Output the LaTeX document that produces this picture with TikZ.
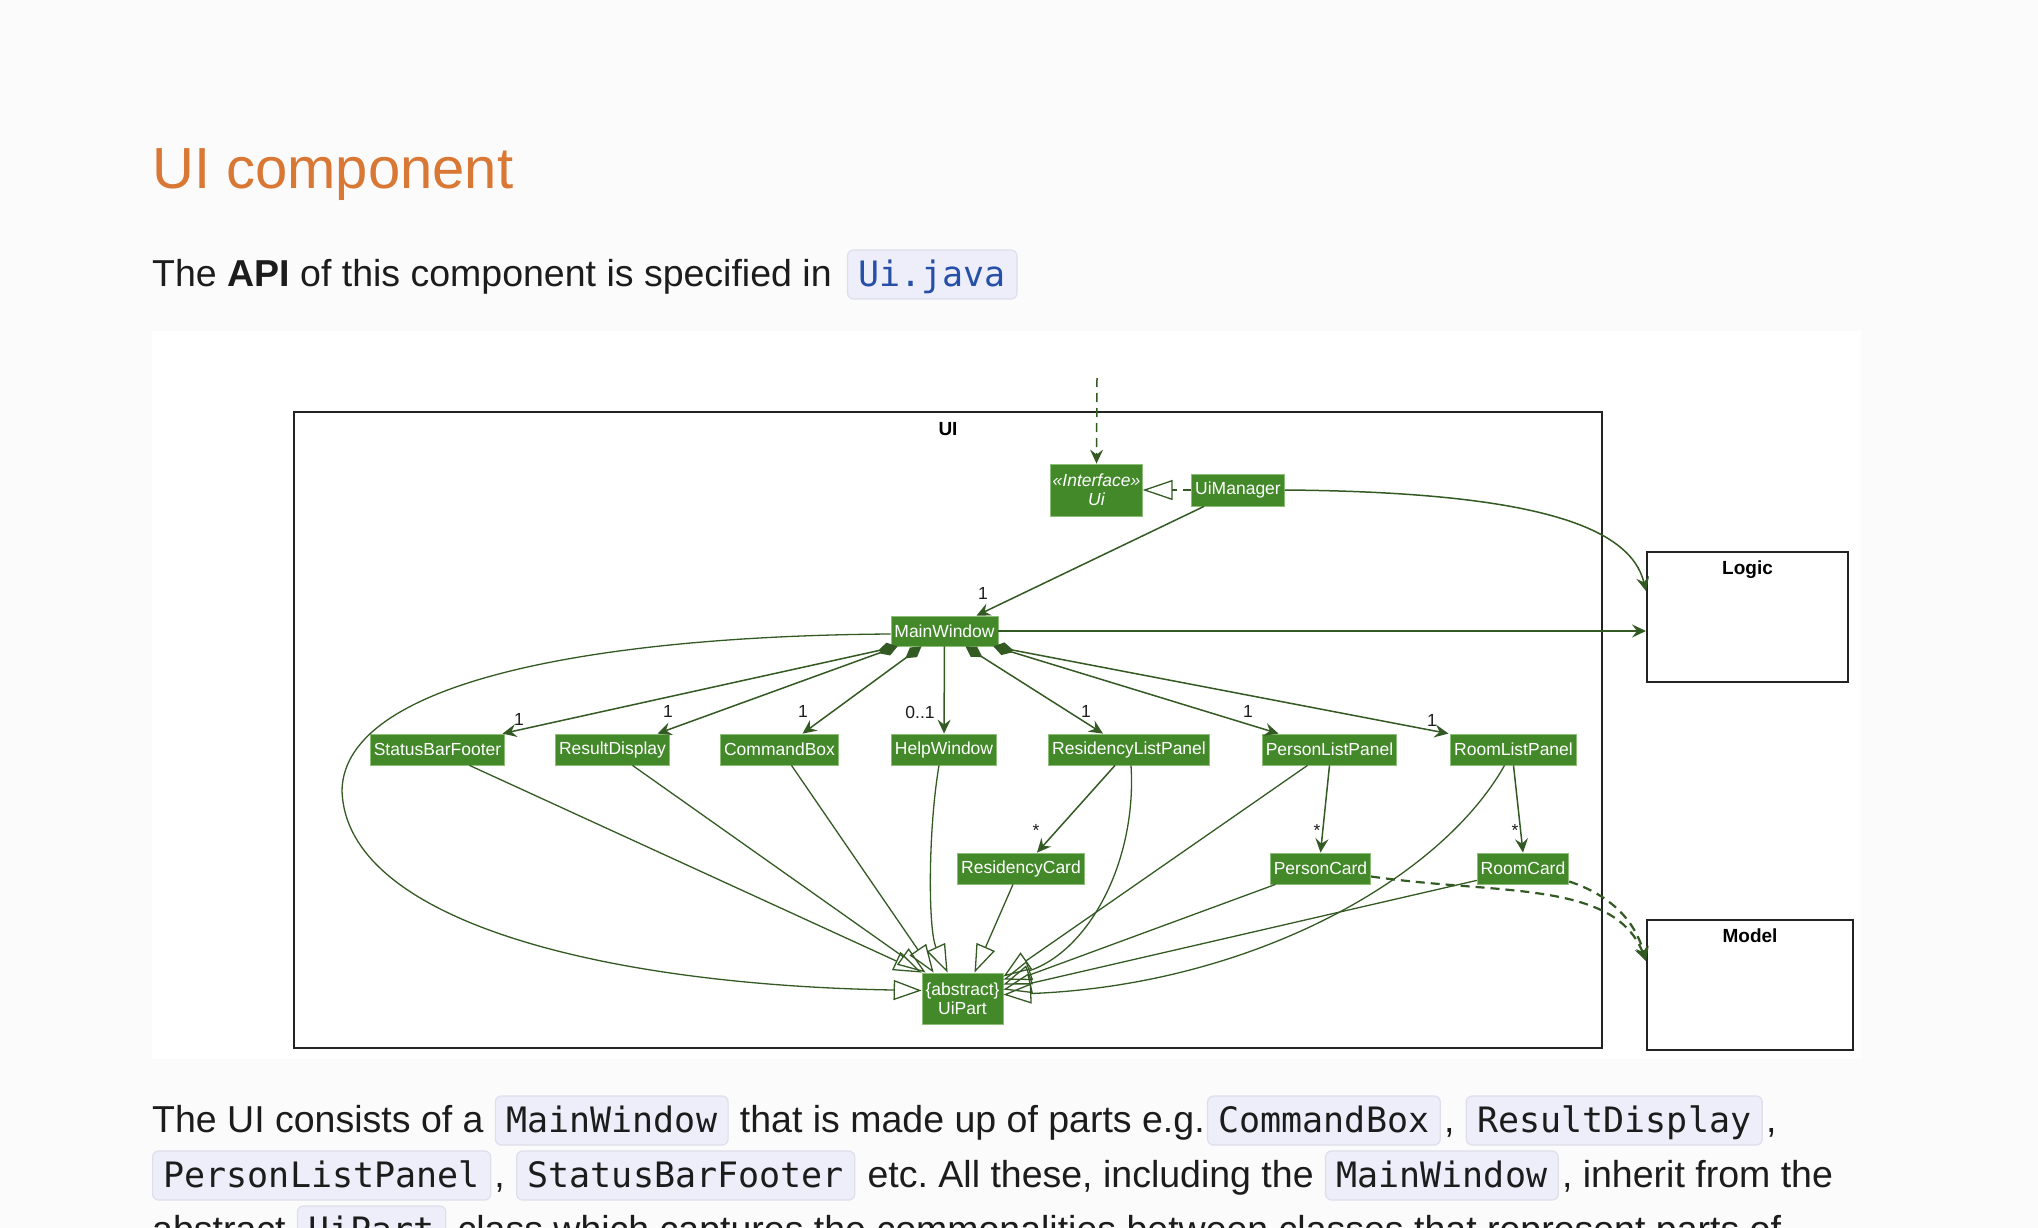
\documentclass[tikz,border=0pt]{standalone}
\usepackage{fontspec}
\setmainfont{Liberation Sans}
\setmonofont{DejaVu Sans Mono}
\usetikzlibrary{arrows.meta,positioning,calc}

\definecolor{uiGreen}{RGB}{67,137,42}
\definecolor{uiEdge}{RGB}{140,190,120}
\definecolor{uiLine}{RGB}{52,90,36}
\definecolor{pkgLine}{RGB}{35,35,35}
\definecolor{headOrange}{RGB}{217,119,52}
\definecolor{codeBlue}{RGB}{38,79,168}
\definecolor{codeBg}{RGB}{238,238,250}
\definecolor{codeEdge}{RGB}{222,222,236}
\definecolor{pageBg}{RGB}{251,251,251}
\definecolor{bodyText}{RGB}{28,28,28}

\newcommand{\umlsize}{\fontsize{17.5}{19}\selectfont}
\newcommand{\titlesize}{\fontsize{19}{22}\selectfont}
\newcommand{\bodysize}{\fontsize{37.5}{45}\selectfont}
\newcommand{\codesize}{\fontsize{35}{42}\selectfont}
\newcommand{\headsize}{\fontsize{58}{70}\selectfont}

\tikzset{
    cls/.style={draw=uiEdge, line width=0.8pt, fill=uiGreen, text=white, font=\umlsize,
        inner xsep=3.5pt, inner ysep=0pt, minimum height=31pt, align=center},
    pkg/.style={draw=pkgLine, line width=2pt, fill=white, inner sep=0pt},
    pkgtitle/.style={font=\titlesize\bfseries, text=black, inner sep=0pt},
    mult/.style={font=\umlsize, text=bodyText, inner sep=0pt},
    assoc/.style={draw=uiLine, line width=1.5pt, -{Stealth[length=14pt,width=13pt,inset=5pt]}},
    comp/.style={draw=uiLine, line width=1.5pt,
        {Diamond[length=20pt,width=12pt]}-{Stealth[length=14pt,width=13pt,inset=5pt]}},
    dep/.style={assoc, dash pattern=on 9pt off 6pt},
    real/.style={draw=uiLine, line width=1.3pt, dash pattern=on 8pt off 6pt,
        -{Triangle[open,length=30pt,width=20pt]}},
    gen/.style={draw=uiLine, line width=1.3pt, -{Triangle[open,length=28pt,width=20pt]}},
    heading/.style={font=\headsize, text=headOrange, inner sep=0pt, anchor=base west},
    body/.style={font=\bodysize, text=bodyText, inner sep=0pt, anchor=base west},
    code/.style={font=\ttfamily\codesize, text=bodyText, fill=codeBg, draw=codeEdge, line width=1.2pt,
        rounded corners=6pt, inner xsep=11pt, inner ysep=5pt, text height=31pt, text depth=8pt,
        anchor=base west}
}

\begin{document}
\frenchspacing
\begin{tikzpicture}[x=1pt,y=-1pt]
    \useasboundingbox (0,0) rectangle (2038,1228);
    \fill[pageBg] (0,0) rectangle (2038,1228);

    % Heading and intro line
    \node[heading] (title) at (152,188) {UI component};
    \node[body] (intro) at (152,286) {The \textbf{API} of this component is specified in};
    \node[code, text=codeBlue] (uiJava) at ([xshift=15pt]intro.base east) {Ui.java};

    % Diagram panel
    \fill[white] (152,331) rectangle (1861,1059);

    % Packages
    \node[pkg, minimum width=1308pt, minimum height=636pt] (uiPkg) at (948,730) {};
    \node[pkgtitle, below=11pt of uiPkg.north] (uiTitle) {UI};
    \node[pkg, minimum width=201pt, minimum height=130pt] (logic) at (1747.5,617) {};
    \node[pkgtitle, below=10pt of logic.north] (logicTitle) {Logic};
    \node[pkg, minimum width=206pt, minimum height=130pt] (model) at (1750,985) {};
    \node[pkgtitle, below=10pt of model.north] (modelTitle) {Model};

    % Classes
    \node[cls, font=\umlsize\itshape, minimum height=52pt, inner xsep=2pt] (ui) at (1096.5,490) {«Interface»\\Ui};
    \node[cls, minimum height=32pt] (uiManager) at (1238,490) {UiManager};
    \node[cls, minimum height=30pt] (mainWindow) at (944.5,631) {MainWindow};
    \node[cls] (statusBar) at (437.5,749.5) {StatusBarFooter};
    \node[cls] (resultDisplay) at (612.5,749.5) {ResultDisplay};
    \node[cls] (commandBox) at (779.5,749.5) {CommandBox};
    \node[cls] (helpWindow) at (944,749.5) {HelpWindow};
    \node[cls] (residencyListPanel) at (1129,749.5) {ResidencyListPanel};
    \node[cls] (personListPanel) at (1329.5,749.5) {PersonListPanel};
    \node[cls] (roomListPanel) at (1513.5,749.5) {RoomListPanel};
    \node[cls] (residencyCard) at (1021,868.5) {ResidencyCard};
    \node[cls] (personCard) at (1320.5,868.5) {PersonCard};
    \node[cls] (roomCard) at (1523,868.5) {RoomCard};
    \node[cls, minimum height=51pt] (uiPart) at (962.5,998.5) {\{abstract\}\\UiPart};

    % UiManager side
    \coordinate (extCaller) at (1097,378);
    \draw[dep] (extCaller) -- (ui.north);
    \draw[real] (uiManager) -- (ui);
    \draw[assoc] ([xshift=-34pt]uiManager.south) -- ([xshift=32pt]mainWindow.north);
    \draw[assoc] (uiManager.east) .. controls (1530,492) and (1630,525) .. ([yshift=-40pt]logic.north west);
    \draw[assoc] (mainWindow.east) -- (mainWindow.east -| logic.west);

    % MainWindow parts
    \draw[comp] ([xshift=-47pt]mainWindow.south) -- ([xshift=65pt]statusBar.north);
    \draw[comp] ([xshift=-47pt]mainWindow.south) -- ([xshift=45pt]resultDisplay.north);
    \draw[comp] ([xshift=-23pt]mainWindow.south) -- ([xshift=23pt]commandBox.north);
    \draw[assoc] (mainWindow) -- (helpWindow);
    \draw[comp] ([xshift=21pt]mainWindow.south) -- ([xshift=-26pt]residencyListPanel.north);
    \draw[comp] ([xshift=49pt]mainWindow.south) -- ([xshift=-51pt]personListPanel.north);
    \draw[comp] ([xshift=49pt]mainWindow.south) -- ([xshift=-65pt]roomListPanel.north);

    % Lists to cards
    \draw[assoc] ([xshift=-14pt]residencyListPanel.south) -- ([xshift=16pt]residencyCard.north);
    \draw[assoc] (personListPanel.south) -- (personCard.north);
    \draw[assoc] (roomListPanel.south) -- (roomCard.north);

    % Multiplicities
    \node[mult] (mUiManager) at (983,593) {1};
    \node[mult] (mStatusBar) at (519,719) {1};
    \node[mult] (mResult) at (668,711) {1};
    \node[mult] (mCommand) at (803,711) {1};
    \node[mult] (mHelp) at (920,712) {0..1};
    \node[mult] (mResidencyList) at (1086,711) {1};
    \node[mult] (mPersonList) at (1248,711) {1};
    \node[mult] (mRoomList) at (1432,720) {1};
    \node[mult] (mResidencyCard) at (1036,830) {*};
    \node[mult] (mPersonCard) at (1317,830) {*};
    \node[mult] (mRoomCard) at (1515,830) {*};

    % Everything inherits from UiPart
    \draw[gen] ([xshift=32pt]statusBar.south) -- (uiPart.north west);
    \draw[gen] ([xshift=20pt]resultDisplay.south) -- ([xshift=4pt]uiPart.north west);
    \draw[gen] ([xshift=12pt]commandBox.south) -- ([xshift=12pt]uiPart.north west);
    \draw[gen] ([xshift=-5pt]helpWindow.south) .. controls (928,830) and (928,930) .. ([xshift=26pt]uiPart.north west);
    \draw[gen] ([xshift=-8pt]residencyCard.south) -- ([xshift=12pt]uiPart.north);
    \draw[gen] ([xshift=2pt]residencyListPanel.south) .. controls (1137,860) and (1090,950) .. ([yshift=-7pt]uiPart.north east);
    \draw[gen] ([xshift=-22pt]personListPanel.south) -- ([yshift=-4pt]uiPart.north east);
    \draw[gen] ([xshift=-45pt]personCard.south) -- ([yshift=-12pt]uiPart.north east);
    \draw[gen] ([yshift=4pt]roomCard.south west) -- ([yshift=-17pt]uiPart.north east);
    \draw[gen] ([xshift=-9pt]roomListPanel.south) .. controls (1440,880) and (1250,985) .. ([yshift=-22pt]uiPart.north east);
    \draw[gen] ([yshift=-3pt]mainWindow.west) .. controls (600,636) and (345,680) .. (342,790)
        .. controls (345,920) and (600,985) .. ([yshift=8pt]uiPart.west);

    % Cards use Model
    \draw[dep, line width=2.2pt] ([yshift=-8pt]personCard.east) .. controls (1500,895) and (1615,880) .. ([yshift=-42pt]model.north west);
    \draw[dep, line width=2.2pt] ([yshift=-13pt]roomCard.east) .. controls (1610,895) and (1635,920) .. ([yshift=-42pt]model.north west);

    % Text under the diagram
    \node[body] (p1a) at (152,1132) {The UI consists of a};
    \node[code] (p1b) at ([xshift=11pt]p1a.base east) {MainWindow};
    \node[body] (p1c) at ([xshift=11pt]p1b.base east) {that is made up of parts e.g.};
    \node[code] (p1d) at ([xshift=2pt]p1c.base east) {CommandBox};
    \node[body] (p1e) at ([xshift=3pt]p1d.base east) {,};
    \node[code] (p1f) at ([xshift=11pt]p1e.base east) {ResultDisplay};
    \node[body] (p1g) at ([xshift=3pt]p1f.base east) {,};

    \node[code] (p2a) at (152,1187) {PersonListPanel};
    \node[body] (p2b) at ([xshift=3pt]p2a.base east) {,};
    \node[code] (p2c) at ([xshift=11pt]p2b.base east) {StatusBarFooter};
    \node[body] (p2d) at ([xshift=12pt]p2c.base east) {etc. All these, including the};
    \node[code] (p2e) at ([xshift=11pt]p2d.base east) {MainWindow};
    \node[body] (p2f) at ([xshift=3pt]p2e.base east) {, inherit from the};

    \node[body] (p3a) at (152,1242) {abstract};
    \node[code] (p3b) at ([xshift=11pt]p3a.base east) {UiPart};
    \node[body] (p3c) at ([xshift=11pt]p3b.base east) {class which captures the commonalities between classes that represent parts of};
\end{tikzpicture}
\end{document}
